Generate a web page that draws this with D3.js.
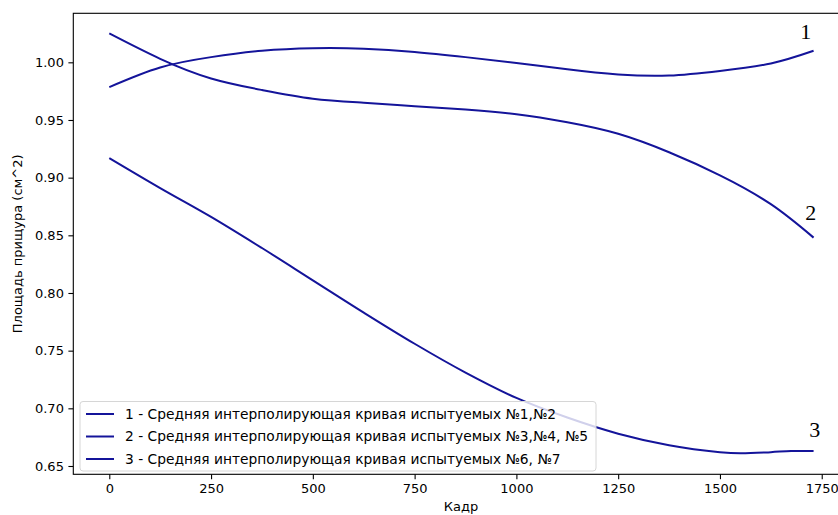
<!DOCTYPE html>
<html>
<head>
<meta charset="utf-8">
<script src="https://cdn.jsdelivr.net/npm/d3@7"></script>
<style>
  html, body { margin: 0; padding: 0; background: #fff; }
  svg { display: block; }
  text { font-family: "DejaVu Sans", sans-serif; }
</style>
</head>
<body>
<svg id="chart" width="838" height="515"></svg>
<script>
// Frame numbers at which the averaged curves are sampled
const frames = [0, 125, 250, 375, 500, 625, 750, 875, 1000, 1125, 1250, 1375, 1500, 1625, 1730];
// Curve 1: subjects №1, №2
const curve1 = [0.9785, 0.9955, 1.0045, 1.010, 1.0122, 1.0118, 1.009, 1.0045, 0.9995, 0.994, 0.9895, 0.9885, 0.9925, 0.999, 1.010];
// Curve 2: subjects №3, №4, №5
const curve2 = [1.025, 1.003, 0.986, 0.976, 0.9685, 0.965, 0.962, 0.959, 0.955, 0.948, 0.938, 0.922, 0.902, 0.877, 0.848];
// Curve 3: subjects №6, №7 (denser near the flat tail)
const frames3 = [0, 125, 250, 375, 500, 625, 750, 875, 1000, 1125, 1250, 1375, 1500, 1550, 1625, 1675, 1730];
const curve3 = [0.917, 0.891, 0.866, 0.839, 0.811, 0.783, 0.756, 0.731, 0.709, 0.692, 0.678, 0.668, 0.662, 0.661, 0.662, 0.663, 0.663];

const legendLabels = [
  "1 - Средняя интерполирующая кривая испытуемых №1,№2",
  "2 - Средняя интерполирующая кривая испытуемых №3,№4, №5",
  "3 - Средняя интерполирующая кривая испытуемых №6, №7"
];
const curveTags = ["1", "2", "3"];
const tagPositions = [[1711, 1.0202], [1723, 0.8633], [1733, 0.6749]];

const xTicks = [0, 250, 500, 750, 1000, 1250, 1500, 1750];
const yTicks = [0.65, 0.70, 0.75, 0.80, 0.85, 0.90, 0.95, 1.00];

const lineColor = "#14149a";

const svg = d3.select("#chart");
const plot = { left: 73.3, top: 13.3, right: 848.8, bottom: 474.3 };

const x = d3.scaleLinear().domain([-88.4, 1816.5]).range([plot.left, plot.right]);
const y = d3.scaleLinear().domain([0.6428, 1.0425]).range([plot.bottom, plot.top]);

svg.append("defs").append("clipPath").attr("id", "plotClip")
  .append("rect")
  .attr("x", plot.left).attr("y", plot.top)
  .attr("width", plot.right - plot.left).attr("height", plot.bottom - plot.top);

// Curves: smooth interpolation through the sampled points
const smooth = d3.line()
  .x(d => x(d[0]))
  .y(d => y(d[1]))
  .curve(d3.curveNatural);
const flatTail = d3.line()
  .x(d => x(d[0]))
  .y(d => y(d[1]))
  .curve(d3.curveCatmullRom.alpha(0.5));

const seriesData = [
  { pts: d3.zip(frames, curve1), gen: smooth },
  { pts: d3.zip(frames, curve2), gen: smooth },
  { pts: d3.zip(frames3, curve3), gen: flatTail }
];

const lines = svg.append("g").attr("clip-path", "url(#plotClip)");
lines.selectAll("path")
  .data(seriesData)
  .join("path")
  .attr("d", d => d.gen(d.pts))
  .attr("fill", "none")
  .attr("stroke", lineColor)
  .attr("stroke-width", 2)
  .attr("stroke-linejoin", "round");

// Axes
const xAxis = d3.axisBottom(x).tickValues(xTicks).tickFormat(d3.format("d")).tickSize(4.9).tickPadding(4.5);
const yAxis = d3.axisLeft(y).tickValues(yTicks).tickFormat(d3.format(".2f")).tickSize(4.9).tickPadding(4.5);

const gx = svg.append("g").attr("transform", `translate(0,${plot.bottom})`).call(xAxis);
const gy = svg.append("g").attr("transform", `translate(${plot.left},0)`).call(yAxis);
[gx, gy].forEach(g => {
  g.select(".domain").remove();
  g.selectAll(".tick line").attr("stroke", "#000").attr("stroke-width", 1.1);
  g.selectAll(".tick text").attr("fill", "#000").style("font-size", "13px")
    .style("font-family", "'DejaVu Sans', sans-serif");
});

// Frame around the plotting area
svg.append("rect")
  .attr("x", plot.left).attr("y", plot.top)
  .attr("width", plot.right - plot.left).attr("height", plot.bottom - plot.top)
  .attr("fill", "none").attr("stroke", "#000").attr("stroke-width", 1.1);

// Axis titles
svg.append("text")
  .attr("x", (plot.left + plot.right) / 2).attr("y", 511)
  .attr("text-anchor", "middle").style("font-size", "13px")
  .text("Кадр");

svg.append("text")
  .attr("transform", `translate(22,${(plot.top + plot.bottom) / 2}) rotate(-90)`)
  .attr("text-anchor", "middle").style("font-size", "13px")
  .text("Площадь прищура (см^2)");

// Curve number tags
svg.append("g").selectAll("text")
  .data(curveTags)
  .join("text")
  .attr("x", (d, i) => x(tagPositions[i][0]))
  .attr("y", (d, i) => y(tagPositions[i][1]))
  .attr("text-anchor", "middle")
  .style("font-family", "'Liberation Serif', 'Times New Roman', serif")
  .style("font-size", "22px")
  .attr("fill", "#000")
  .text(d => d);

// Legend
const legend = svg.append("g");
const lg = { x: 80, y: 401.5, w: 516, h: 69.5, rowY: [414, 436.5, 459] };
legend.append("rect")
  .attr("x", lg.x).attr("y", lg.y).attr("width", lg.w).attr("height", lg.h)
  .attr("rx", 3).attr("ry", 3)
  .attr("fill", "#fff").attr("fill-opacity", 0.8)
  .attr("stroke", "#d6d6d6").attr("stroke-width", 1);

const rows = legend.selectAll("g.row")
  .data(legendLabels)
  .join("g").attr("class", "row")
  .attr("transform", (d, i) => `translate(0,${lg.rowY[i]})`);
rows.append("line")
  .attr("x1", 86).attr("x2", 114)
  .attr("stroke", lineColor).attr("stroke-width", 2);
rows.append("text")
  .attr("x", 125).attr("dy", "0.35em")
  .style("font-size", "13.8px")
  .attr("fill", "#000")
  .text(d => d);
</script>
</body>
</html>
